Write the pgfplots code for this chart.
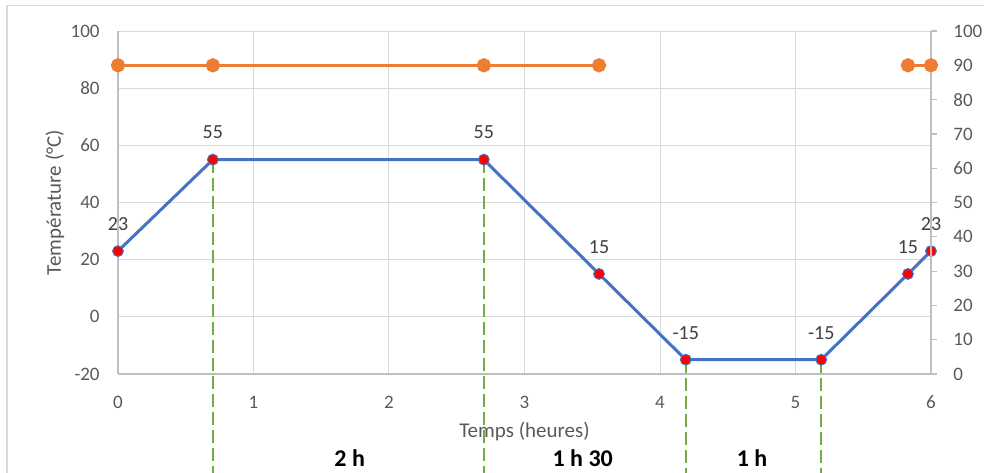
\documentclass[border=0pt]{standalone}
\usepackage{fontspec}
\setmainfont{Carlito}
\usepackage{pgfplots}
\pgfplotsset{compat=1.18}
\definecolor{xblue}{HTML}{4472C4}
\definecolor{xorange}{HTML}{ED7D31}
\definecolor{xgreen}{HTML}{70AD47}
\definecolor{xgrid}{HTML}{D9D9D9}
\definecolor{xaxis}{HTML}{BFBFBF}
\definecolor{xticktext}{HTML}{595959}
\definecolor{xlabtext}{HTML}{404040}
\begin{document}
\begin{tikzpicture}[x=1pt,y=1pt]
\path[use as bounding box] (0,0) rectangle (492,236);
\draw[xgrid, line width=0.8pt] (3.5,-5) rectangle (500,233.25);
\begin{axis}[
  at={(59pt,49pt)}, anchor=south west, scale only axis,
  width=406.5pt, height=171.5pt,
  xmin=0, xmax=6, ymin=-20, ymax=100,
  xtick={0,1,2,3,4,5,6}, ytick={-20,0,20,40,60,80,100},
  grid=major, major grid style={xgrid, line width=0.5pt},
  axis x line*=bottom, axis y line*=left,
  axis line style={xaxis, line width=0.7pt},
  tick style={draw=none},
  /pgf/number format/assume math mode=true,
  ticklabel style={font=\fontsize{9.5}{11}\selectfont, text=xticktext},
  xticklabel style={anchor=center, yshift=-14pt, inner sep=0pt},
  yticklabel style={anchor=east, xshift=-9pt, inner sep=0pt},
  every axis x label/.style={at={(axis description cs:0.5,-0.169)}, anchor=center},
  every axis y label/.style={at={(axis description cs:-0.0775,0.5)}, rotate=90, anchor=center},
  label style={font=\fontsize{10.5}{12}\selectfont, text=xticktext},
  xlabel={Temps (heures)},
  ylabel={Température (°C)},
  clip=false,
]
\addplot[xgreen, line width=1.1pt, dash pattern=on 6.5pt off 2.5pt] coordinates {(0.7,55) (0.7,-56)};
\addplot[xgreen, line width=1.1pt, dash pattern=on 6.5pt off 2.5pt] coordinates {(2.7,55) (2.7,-56)};
\addplot[xgreen, line width=1.1pt, dash pattern=on 6.5pt off 2.5pt] coordinates {(4.19,-15) (4.19,-56)};
\addplot[xgreen, line width=1.1pt, dash pattern=on 6.5pt off 2.5pt] coordinates {(5.19,-15) (5.19,-56)};
\addplot[xblue, line width=1.5pt, mark=*, mark size=2.7pt,
  mark options={fill=red, draw=xblue, line width=0.5pt},
  point meta=explicit symbolic,
  nodes near coords={\pgfplotspointmeta},
  nodes near coords style={anchor=center, yshift=13.5pt, font=\fontsize{10}{12}\selectfont, text=xlabtext}]
  coordinates {(0,23) [23] (0.7,55) [55] (2.7,55) [55] (3.55,15) [15] (4.19,-15) [-15] (5.19,-15) [-15] (5.83,15) [15] (6,23) [23]};
\node[font=\bfseries\fontsize{12}{14}\selectfont] at (axis cs:1.71,-49.4) {2 h};
\node[font=\bfseries\fontsize{12}{14}\selectfont] at (axis cs:3.43,-49.4) {1 h 30};
\node[font=\bfseries\fontsize{12}{14}\selectfont] at (axis cs:4.68,-49.4) {1 h};
\end{axis}
\begin{axis}[
  at={(59pt,49pt)}, anchor=south west, scale only axis,
  width=406.5pt, height=171.5pt,
  xmin=0, xmax=6, ymin=0, ymax=100,
  axis x line=none, axis y line*=right,
  axis line style={xaxis, line width=0.7pt},
  ytick={0,10,...,100},
  tick align=outside, major tick length=3pt,
  ytick style={xaxis, line width=0.6pt},
  /pgf/number format/assume math mode=true,
  ticklabel style={font=\fontsize{9.5}{11}\selectfont, text=xticktext},
  yticklabel style={anchor=west, inner sep=0pt, xshift=8pt},
  clip=false,
]
\addplot[xorange, line width=1.5pt, mark=*, mark size=2.8pt, mark options={fill=xorange, draw=xorange}]
  coordinates {(0,90) (0.7,90) (2.7,90) (3.55,90)};
\addplot[xorange, line width=1.5pt, mark=*, mark size=2.8pt, mark options={fill=xorange, draw=xorange}]
  coordinates {(5.83,90) (6,90)};
\end{axis}
\end{tikzpicture}
\end{document}
